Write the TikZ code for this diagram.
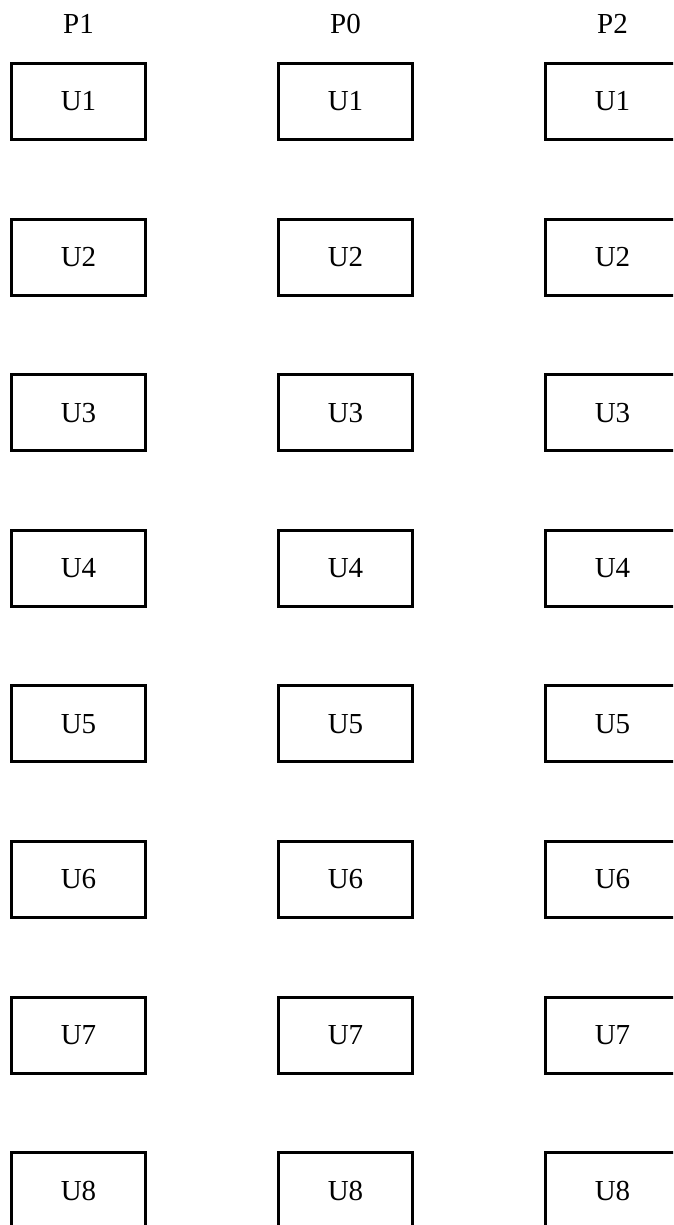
\documentclass[tikz,border=0pt]{standalone}
\usepackage{fontspec}
\setmainfont{Liberation Serif}
\begin{document}
\begin{tikzpicture}[x=1pt, y=-1pt, every node/.style={font=\fontsize{29}{34}\selectfont},
  unit/.style={draw,line width=3pt,minimum width=134pt,minimum height=76pt,inner sep=0pt}]
  \useasboundingbox (0,0) rectangle (673,1225);
  \clip (0,0) rectangle (673,1225);
  % one column per process
  \foreach \p/\x in {1/78.5, 0/345.5, 2/612.5} {
    \node[anchor=base] (p\p) at (\x,34) {P\p};
    \foreach \u in {1,...,8}
      \node[unit] (p\p u\u) at (\x,{101.5+155.6*(\u-1)}) {U\u};
  }
\end{tikzpicture}
\end{document}
